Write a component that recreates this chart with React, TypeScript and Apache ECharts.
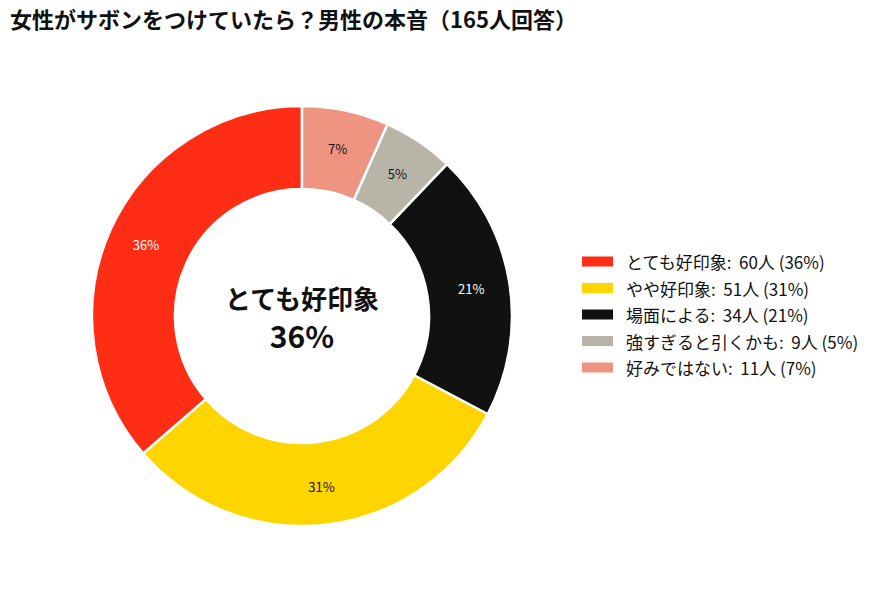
import { useEffect, useRef } from 'react';
import * as echarts from 'echarts';

const categories = ['とても好印象', 'やや好印象', '場面による', '強すぎると引くかも', '好みではない'];
const counts = [60, 51, 34, 9, 11];
const colors = ['#FF2D14', '#FFD500', '#111111', '#B8B5A8', '#F09482'];
const labelColors = ['#ffffff', '#111111', '#ffffff', '#111111', '#111111'];

const FONT = '"Noto Sans CJK JP", "Noto Sans", sans-serif';

const App = () => {
  const chartDom = useRef<HTMLDivElement | null>(null);

  useEffect(() => {
    if (!chartDom.current) return;
    const myChart = echarts.init(chartDom.current, null, { renderer: 'svg' });
    const total = counts.reduce((a, b) => a + b, 0);
    const pct = counts.map((c) => Math.round((c / total) * 100));

    const option = {
      animation: false,
      textStyle: { fontFamily: FONT },
      title: {
        text: '女性がサボンをつけていたら？男性の本音（165人回答）',
        left: 5,
        top: 2,
        textStyle: { fontSize: 22, fontWeight: 'bold', color: '#111', fontFamily: FONT },
      },
      legend: {
        orient: 'vertical',
        left: 575,
        top: 247,
        itemWidth: 33,
        itemHeight: 12,
        itemGap: 7.5,
        icon: 'rect',
        data: categories,
        textStyle: { fontSize: 17, color: '#111', lineHeight: 19, padding: [0, 0, 0, 7], fontFamily: FONT },
        formatter: (name: string) => {
          const i = categories.indexOf(name);
          return `${name}:  ${counts[i]}人 (${pct[i]}%)`;
        },
      },
      graphic: [
        {
          type: 'text',
          x: 302,
          y: 297,
          style: {
            text: categories[0],
            fill: '#111',
            font: `bold 26px ${FONT}`,
            textAlign: 'center',
            textVerticalAlign: 'middle',
          },
        },
        {
          type: 'text',
          x: 302,
          y: 335,
          style: {
            text: `${pct[0]}%`,
            fill: '#111',
            font: `bold 30px ${FONT}`,
            textAlign: 'center',
            textVerticalAlign: 'middle',
          },
        },
      ],
      series: [
        {
          type: 'pie',
          center: [302, 316],
          radius: [127, 210],
          startAngle: 90,
          clockwise: false,
          avoidLabelOverlap: false,
          itemStyle: { borderColor: '#fff', borderWidth: 2.5 },
          label: {
            position: 'inside',
            formatter: (p: any) => `${pct[p.dataIndex]}%`,
            fontSize: 13,
            fontFamily: FONT,
          },
          labelLine: { show: false },
          emphasis: { disabled: true },
          data: categories.map((name, i) => ({
            name,
            value: counts[i],
            itemStyle: { color: colors[i] },
            label: { color: labelColors[i] },
          })),
        },
      ],
    };

    myChart.setOption(option);
    return () => {
      myChart.dispose();
    };
  }, []);

  return (
    <div style={{ position: 'absolute', left: 0, top: 0, width: 879, height: 589, background: '#fff' }}>
      <div ref={chartDom} style={{ width: '100%', height: '100%' }} />
    </div>
  );
};

export default App;
